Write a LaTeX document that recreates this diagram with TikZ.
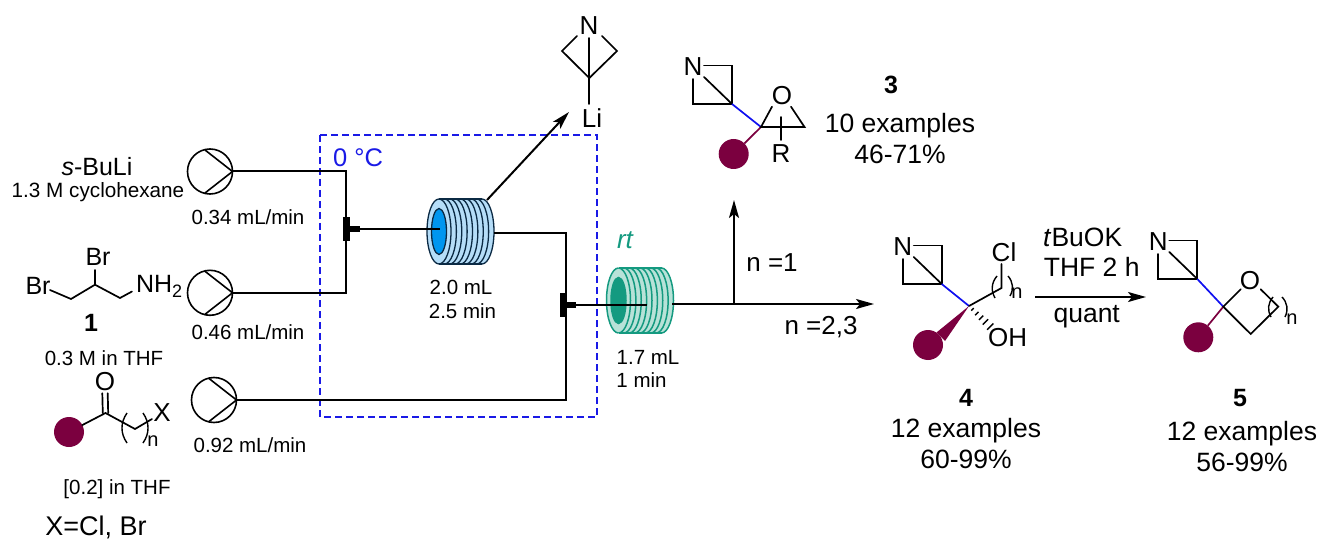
\documentclass[tikz,border=0pt]{standalone}
\usepackage{fontspec}
\setmainfont{Liberation Sans}
\usetikzlibrary{arrows.meta,calc}
\definecolor{plum}{HTML}{7B003F}
\definecolor{dashblue}{HTML}{1A1AE6}
\definecolor{bondblue}{HTML}{1010F0}
\definecolor{coilblue}{HTML}{0096F0}
\definecolor{coillight}{HTML}{B5DDF8}
\definecolor{coilink}{HTML}{0B2A44}
\definecolor{tealdark}{HTML}{149A80}
\definecolor{teallight}{HTML}{B8E2D8}
\newcommand{\fs}[1]{\fontsize{#1}{#1}\selectfont}
\tikzset{
  x=1pt,y=-1pt,
  every node/.style={inner sep=0pt,outer sep=0pt,align=center},
  flow/.style={line width=2pt},
  bond/.style={line width=1.7pt,line cap=round},
  blueb/.style={line width=1.7pt,draw=bondblue},
  plumb/.style={line width=1.7pt,draw=plum},
  arrowline/.style={line width=2pt,-{Stealth[length=18pt,width=10pt,inset=4pt]}},
  pumpc/.style={circle,draw=black,line width=1.6pt,minimum size=45pt},
  mixbar/.style={fill=black,minimum width=7pt,minimum height=24pt},
  rate/.style={font=\fs{20.5}},
  atom/.style={font=\fs{26}},
  big/.style={font=\fs{26.5}},
  bnum/.style={font=\bfseries\fs{25}},
  small/.style={font=\fs{20}},
  ball/.style={circle,fill=plum,minimum size=30pt},
  azet/.pic={
    \node[atom] (-N) at (0,0) {N};
    \coordinate (-a) at (11,-1.5);
    \coordinate (-b) at (39,-1.5);
    \coordinate (-c) at (39,37);
    \coordinate (-d) at (0,37);
    \coordinate (-e) at (0,12);
    \coordinate (-f) at (11,10);
    \draw[bond] (-a) -- (-b) -- (-c) -- (-d) -- (-e);
    \draw[bond] (-f) -- (-c);
  },
}
% #1 name, #2 x of first ring centre, #3 y, #4 fill light, #5 ink, #6 core, #7 ink width
\newcommand{\coil}[7]{
  \fill[#4] (#2,#3-32.5) -- (#2+43,#3-32.5) arc[start angle=90,end angle=-90,x radius=12pt,y radius=32.5pt]
     -- (#2,#3+32.5) arc[start angle=270,end angle=90,x radius=12pt,y radius=32.5pt] -- cycle;
  \draw[#5,line width=#7] (#2,#3-32.5) -- (#2+43,#3-32.5) (#2,#3+32.5) -- (#2+43,#3+32.5);
  \draw[#5,line width=#7] (#2,#3-32.5) arc[start angle=90,end angle=270,x radius=12pt,y radius=32.5pt];
  \foreach \k in {0,...,8}{
    \draw[#5,line width=#7] (#2+\k*5.375,#3-32.5) arc[start angle=90,end angle=-90,x radius=12pt,y radius=32.5pt];
  }
  \draw[#5,line width=#7,fill=#6] (#2,#3) ellipse[x radius=7.5pt,y radius=23pt];
  \node[minimum width=67pt,minimum height=65pt] (#1) at (#2+21.5,#3) {};
}
\begin{document}
\begin{tikzpicture}
\useasboundingbox (0,0) rectangle (1320,540);
\fill[white] (0,0) rectangle (1320,540);

% temperature zone
\coordinate (zA) at (320,135);
\coordinate (zB) at (597,417);
\draw[dashblue,line width=1.8pt,dash pattern=on 7pt off 4pt] (zA) rectangle (zB);
\node[text=dashblue,font=\fs{25.5}] (tzero) at (358,158) {0 °C};
\node[text=tealdark,font=\itshape\fs{26}] (trt) at (625,240) {rt};

% coils
\coil{cA}{439}{231.5}{coillight}{coilink}{coilblue}{1.3pt}
\coil{cB}{618.5}{300.5}{teallight}{tealdark}{tealdark}{1.5pt}

% pumps
\foreach \n/\px/\py in {pA/210/171.5,pB/210/292.8,pC/214/400}{
  \node[pumpc] (\n) at (\px,\py) {};
  \draw[line width=1.6pt] (\px-5,\py-21.5) -- (\n.east) -- (\px-5,\py+21.5);
}

% mixers
\node[mixbar] (mA) at (346,229.5) {};
\node[mixbar] (mB) at (563,304.5) {};
\coordinate (mAs) at (360,229.5);
\coordinate (mBs) at (576,304.5);
\draw[line width=6pt] (mA.center) -- (mAs);
\draw[line width=6pt] (mB.center) -- (mBs);

% flow lines
\coordinate (jA) at (346,171.5);
\coordinate (jB) at (346,292.8);
\coordinate (cAin) at (440,229.5);
\coordinate (cAout) at (494,232.8);
\coordinate (jC) at (565.5,232.8);
\coordinate (jD) at (565.5,400);
\coordinate (cBin) at (646.5,304.5);
\coordinate (cBout) at (672,304);
\coordinate (jE) at (734,304);
\coordinate (upT) at (734,200);
\coordinate (rgT) at (874,304);
\coordinate (liS) at (487,200);
\coordinate (liT) at (569,112);
\draw[flow] (pA.east) -- (jA) -- (jB) -- (pB.east);
\draw[flow] (mAs) -- (cAin);
\draw[flow] (cAout) -- (jC) -- (jD) -- (pC.east);
\draw[flow] (mBs) -- (cBin);
\draw[arrowline] (cBout) -- (rgT);
\draw[arrowline] (jE) -- (upT);
\draw[arrowline] (liS) -- (liT);

% feed labels
\node[font=\fs{25}] (tsbu) at (97,167) {\textit{s}-BuLi};
\node[font=\fs{20.7}] (tcyc) at (98,192) {1.3 M cyclohexane};
\node[rate] (rA) at (248,217) {0.34 mL/min};
\node[rate] (rB) at (248,332) {0.46 mL/min};
\node[rate] (rC) at (250,445) {0.92 mL/min};
\node[bnum] (one) at (91,323) {1};
\node[rate] (tthf) at (104,358) {0.3 M in THF};
\node[rate] (tconc) at (117,489) {[0.2] in THF};
\node[font=\fs{27}] (tx) at (96,527) {X=Cl, Br};

% dibromoamine
\node[font=\fs{25}] (brT) at (98,257) {Br};
\node[font=\fs{25}] (brL) at (38,286) {Br};
\node[font=\fs{25},anchor=west] (nh) at (136,286) {NH\raisebox{-5pt}{\fs{18}2}};
\coordinate (d1) at (50,290);
\coordinate (d2) at (71,299);
\coordinate (d3) at (95,284.7);
\coordinate (d4) at (120,298);
\coordinate (d5) at (132,291.5);
\coordinate (d6) at (95,270);
\draw[bond] (d1) -- (d2) -- (d3) -- (d4) -- (d5);
\draw[bond] (d3) -- (d6);

% ketone
\node[ball] (bK) at (69,432) {};
\node[atom] (oK) at (105,382) {O};
\node[atom] (xK) at (162,413) {X};
\node[small] (nK) at (153,441) {n};
\coordinate (k1) at (105.5,413);
\coordinate (k2) at (135,429);
\coordinate (k3) at (152,419);
\draw[bond] (bK) -- (k1) -- (k2) -- (k3);
\draw[bond] ($(k1)+(-2.7,0)$) -- ($(oK.south)+(-2.7,2)$);
\draw[bond] ($(k1)+(2.7,0)$) -- ($(oK.south)+(2.7,2)$);
\coordinate (k4) at (127,413); \coordinate (k5) at (127,443);
\coordinate (k6) at (143,413); \coordinate (k7) at (143,443);
\draw[line width=1.4pt] (k4) to[bend right=35] (k5);
\draw[line width=1.4pt] (k6) to[bend left=35] (k7);

% lithiated azabicyclobutane
\node[atom] (nL) at (589,26) {N};
\node[atom] (li) at (592,118) {Li};
\coordinate (l1) at (577,36); \coordinate (l2) at (562,51);
\coordinate (l3) at (589.3,78); \coordinate (l4) at (602,36);
\coordinate (l5) at (617,51); \coordinate (l6) at (589.3,38);
\coordinate (l7) at (589.3,104);
\draw[bond] (l1) -- (l2) -- (l3) -- (l5) -- (l4);
\draw[bond] (l6) -- (l3) -- (l7);

% compound 3
\pic (azC) at (693,67) {azet};
\coordinate (c3) at (761,127);
\node[ball] (b3) at (733.7,154) {};
\node[atom] (o3) at (782,96) {O};
\node[atom] (r3) at (781,154) {R};
\coordinate (c3r) at (804.5,127);
\coordinate (c3o) at (772,106.7);
\coordinate (c3p) at (791,106.7);
\coordinate (c3q) at (781,117);
\coordinate (c3s) at (781,140);
\draw[blueb] (azC-c) -- (c3);
\draw[plumb] (c3) -- (b3);
\draw[bond] (c3o) -- (c3) -- (c3r) -- (c3p);
\draw[bond] (c3q) -- (c3s);
\node[bnum] (n3) at (891,85) {3};
\node[big] (e3) at (900,126) {10 examples};
\node[big] (y3) at (900,154) {46-71\%};

% branch labels
\node[font=\fs{26}] (nA) at (772,263) {n =1};
\node[font=\fs{26}] (nB) at (821,327) {n =2,3};
\node[rate] (vA) at (461,287) {2.0 mL};
\node[rate] (vB) at (462.5,311) {2.5 min};
\node[rate] (vC) at (648,357) {1.7 mL};
\node[rate] (vD) at (641.5,380) {1 min};

% compound 4
\pic (azD) at (902.7,247) {azet};
\coordinate (c4) at (969,306);
\node[ball] (b4) at (928,345) {};
\node[atom] (cl4) at (1004,252) {Cl};
\node[atom] (oh4) at (1007.7,338) {OH};
\node[small] (n4) at (1017,293) {n};
\coordinate (c4a) at (1001.5,288);
\coordinate (c4b) at (1001.5,264);
\draw[blueb] (azD-c) -- (c4);
\draw[bond] (c4) -- (c4a) -- (c4b);
\coordinate (w1) at (936.5,332.5);
\coordinate (w2) at (945,341);
\fill[plum] (c4) -- (w1) -- (w2) -- cycle;
\foreach \t/\w in {0.16/1.7,0.36/2.4,0.56/3.1,0.76/3.8,0.98/4.5}{
  \coordinate (hh) at ($(c4)!\t!(990.7,327)$);
  \draw[line width=1.4pt] ($(hh)+(\w*0.7,-\w*0.7)$) -- ($(hh)+(-\w*0.7,\w*0.7)$);
}
\coordinate (q1) at (997,276); \coordinate (q2) at (995,298);
\coordinate (q3) at (1008,276); \coordinate (q4) at (1010,296);
\draw[line width=1.4pt] (q1) to[bend right=35] (q2);
\draw[line width=1.4pt] (q3) to[bend left=35] (q4);
\node[bnum] (n4n) at (966,398) {4};
\node[big] (e4) at (966,431) {12 examples};
\node[big] (y4) at (966,459) {60-99\%};

% last step
\coordinate (sA) at (1035,297);
\coordinate (sB) at (1146,297);
\draw[arrowline] (sA) -- (sB);
\node[font=\fs{26.5}] (tb) at (1082.7,237) {\textit{t}BuOK};
\node[font=\fs{26.5}] (tt) at (1091.7,266.7) {THF 2 h};
\node[font=\fs{26.5}] (tq) at (1086.7,317) {quant};

% compound 5
\pic (azE) at (1158.3,242) {azet};
\coordinate (c5) at (1223.3,306.7);
\node[ball] (b5) at (1198.3,337.3) {};
\node[atom] (o5) at (1250,280.7) {O};
\node[small] (n5) at (1292,319) {n};
\coordinate (c5a) at (1240.7,289.3);
\coordinate (c5b) at (1260.7,289.3);
\coordinate (c5c) at (1278.3,306.7);
\coordinate (c5d) at (1250.7,334);
\draw[blueb] (azE-c) -- (c5);
\draw[plumb] (c5) -- (b5);
\draw[bond] (c5a) -- (c5) -- (c5d) -- (c5c) -- (c5b);
\coordinate (r1) at (1273,297); \coordinate (r2) at (1271,317);
\coordinate (r3a) at (1282,297); \coordinate (r4) at (1285,317);
\draw[line width=1.4pt] (r1) to[bend right=35] (r2);
\draw[line width=1.4pt] (r3a) to[bend left=35] (r4);
\node[bnum] (n5n) at (1240,398) {5};
\node[big] (e5) at (1242,434) {12 examples};
\node[big] (y5) at (1242,462) {56-99\%};
\end{tikzpicture}
\end{document}
